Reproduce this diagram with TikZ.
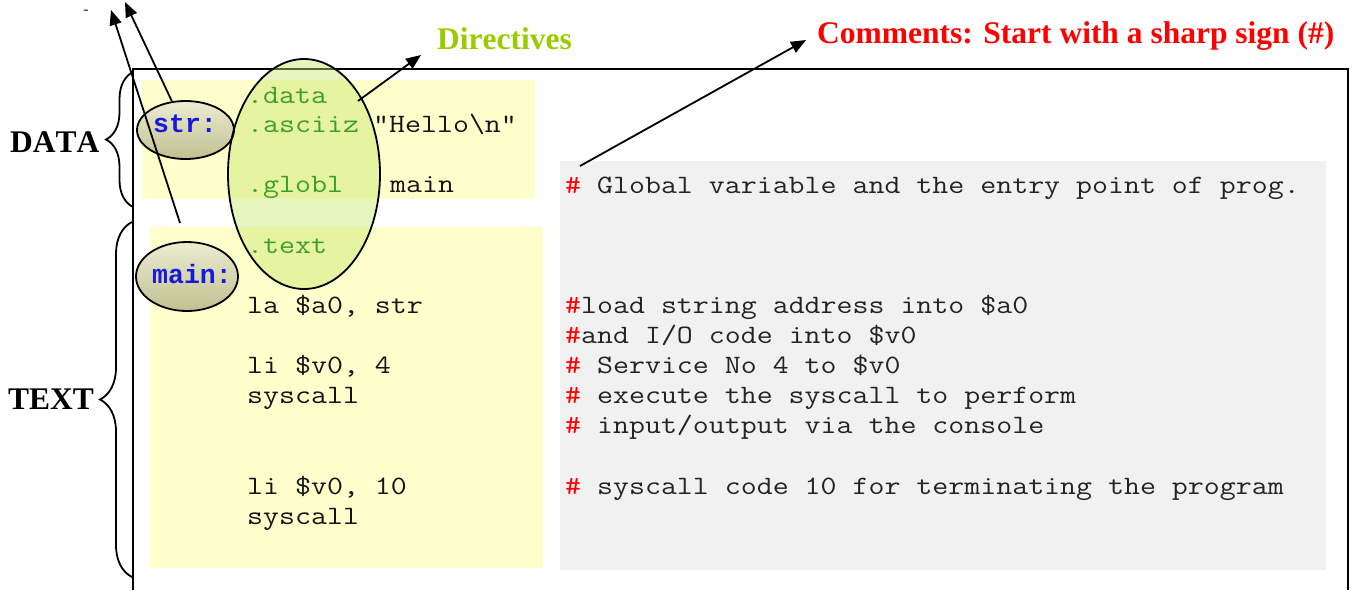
\documentclass[tikz,border=0pt]{standalone}
\usepackage{fontspec}
\setmainfont[Kerning=Off]{Liberation Serif}
\newfontfamily\monofam[FakeStretch=1.17]{Latin Modern Mono}
\newfontfamily\monobold{Liberation Mono}
\usetikzlibrary{shapes.geometric,arrows.meta,decorations.pathreplacing}
\definecolor{codeyellow}{RGB}{255,255,204}
\definecolor{commgray}{RGB}{241,241,241}
\definecolor{dirgreen}{RGB}{60,160,40}
\definecolor{labgreen}{RGB}{153,204,0}
\definecolor{lblue}{RGB}{25,25,220}
\definecolor{codeblack}{RGB}{20,20,20}
\definecolor{commtext}{RGB}{35,35,35}
\definecolor{ellfill}{RGB}{200,230,110}
\tikzset{
  code/.style={anchor=base west,inner sep=0pt,font=\monofam\fontsize{26.5}{30}\selectfont,text=codeblack},
  dir/.style={code,text=dirgreen},
  lbl/.style={code,font=\monobold\bfseries\fontsize{26.5}{30}\selectfont,text=lblue},
  comm/.style={code,text=commtext},
  big/.style={anchor=base west,inner sep=0pt,font=\bfseries\fontsize{31.5}{36}\selectfont},
  arr/.style={line width=1.8pt,-{Triangle[length=15pt,width=12pt]}},
  oval/.style={ellipse,draw,line width=1.8pt,inner sep=0pt},
  brc/.style={decorate,line width=1.8pt},
}
\newcommand{\hs}{\textcolor{red}{\#}}
\begin{document}
\begin{tikzpicture}[x=1pt,y=-1pt]
\useasboundingbox (0,0) rectangle (1354,590);
% backgrounds
\fill[codeyellow] (142,80) rectangle (535,199);
\fill[codeyellow] (150,227) rectangle (543,568);
\fill[commgray] (560,161) rectangle (1326,570);
% frame
\draw[line width=2pt] (133,590) -- (133,69) -- (1348,69) -- (1348,590);
% ellipse fills
\node[ellipse,inner sep=0pt,minimum width=152pt,minimum height=230pt,fill=ellfill,fill opacity=0.45] (dirE) at (304,174) {};
\node[ellipse,inner sep=0pt,minimum width=97pt,minimum height=58pt,top color={rgb,255:red,236;green,236;blue,210},bottom color={rgb,255:red,192;green,192;blue,145}] (strE) at (185.5,130) {};
\node[ellipse,inner sep=0pt,minimum width=102pt,minimum height=69pt,top color={rgb,255:red,236;green,236;blue,210},bottom color={rgb,255:red,192;green,192;blue,145}] (mainE) at (187,276.5) {};
% code
\node[dir] (d1) at (247,103) {.data};
\node[dir] (d2) at (247,132) {.asciiz};
\node[code] (c2) at (373,132) {"Hello\textbackslash n"};
\node[dir] (d3) at (247,192) {.globl};
\node[code] (c3) at (390,192) {main};
\node[dir] (d4) at (247,253) {.text};
\node[code] (c5) at (247,313) {la \$a0, str};
\node[code] (c6) at (247,373) {li \$v0, 4};
\node[code] (c7) at (247,403) {syscall};
\node[code] (c8) at (247,494) {li \$v0, 10};
\node[code] (c9) at (247,524) {syscall};
% labels
\node[lbl] (lstr) at (153,132) {str:};
\node[lbl] (lmain) at (152,283) {main:};
% comments
\node[comm] (k1) at (565,193) {\hs{} Global variable and the entry point of prog.};
\node[comm] (k2) at (565,313) {\hs{}load string address into \$a0};
\node[comm] (k3) at (565,343) {\hs{}and I/O code into \$v0};
\node[comm] (k4) at (565,373) {\hs{} Service No 4 to \$v0};
\node[comm] (k5) at (565,403) {\hs{} execute the syscall to perform};
\node[comm] (k6) at (565,433) {\hs{} input/output via the console};
\node[comm] (k7) at (565,494) {\hs{} syscall code 10 for terminating the program};
% ellipse outlines
\node[oval,minimum width=152pt,minimum height=230pt] (dirO) at (dirE) {};
\node[oval,minimum width=97pt,minimum height=58pt] (strO) at (strE) {};
\node[oval,minimum width=102pt,minimum height=69pt] (mainO) at (mainE) {};
% side labels and braces
\node[big] (ldata) at (10,152) {DATA};
\node[big] (ltext) at (8,409) {TEXT};
\coordinate (bd1) at (133,207);
\coordinate (bd2) at (133,72);
\coordinate (bt1) at (132,577);
\coordinate (bt2) at (132,222);
\draw[brc,decoration={brace,amplitude=27pt}] (bd1) -- (bd2);
\draw[brc,decoration={brace,amplitude=32pt}] (bt1) -- (bt2);
% top labels
\node[big,text=labgreen] (ldir) at (437,49) {Directives};
\node[big,text=red] (lcomm) at (817,43) {Comments: Start with a sharp sign (\#)};
\node[anchor=base,inner sep=0pt,text=lblue,font=\fontsize{16}{16}\selectfont] (dash) at (86,14) {-};
% arrows
\coordinate (t1) at (125,2);
\coordinate (t2) at (111,10);
\coordinate (s2) at (180,223);
\coordinate (sd) at (358,101);
\coordinate (td) at (421,55);
\coordinate (sc) at (580,166);
\coordinate (tc) at (806,40);
\draw[arr] (strO) -- (t1);
\draw[arr] (s2) -- (t2);
\draw[arr] (sd) -- (td);
\draw[arr] (sc) -- (tc);
\end{tikzpicture}
\end{document}
